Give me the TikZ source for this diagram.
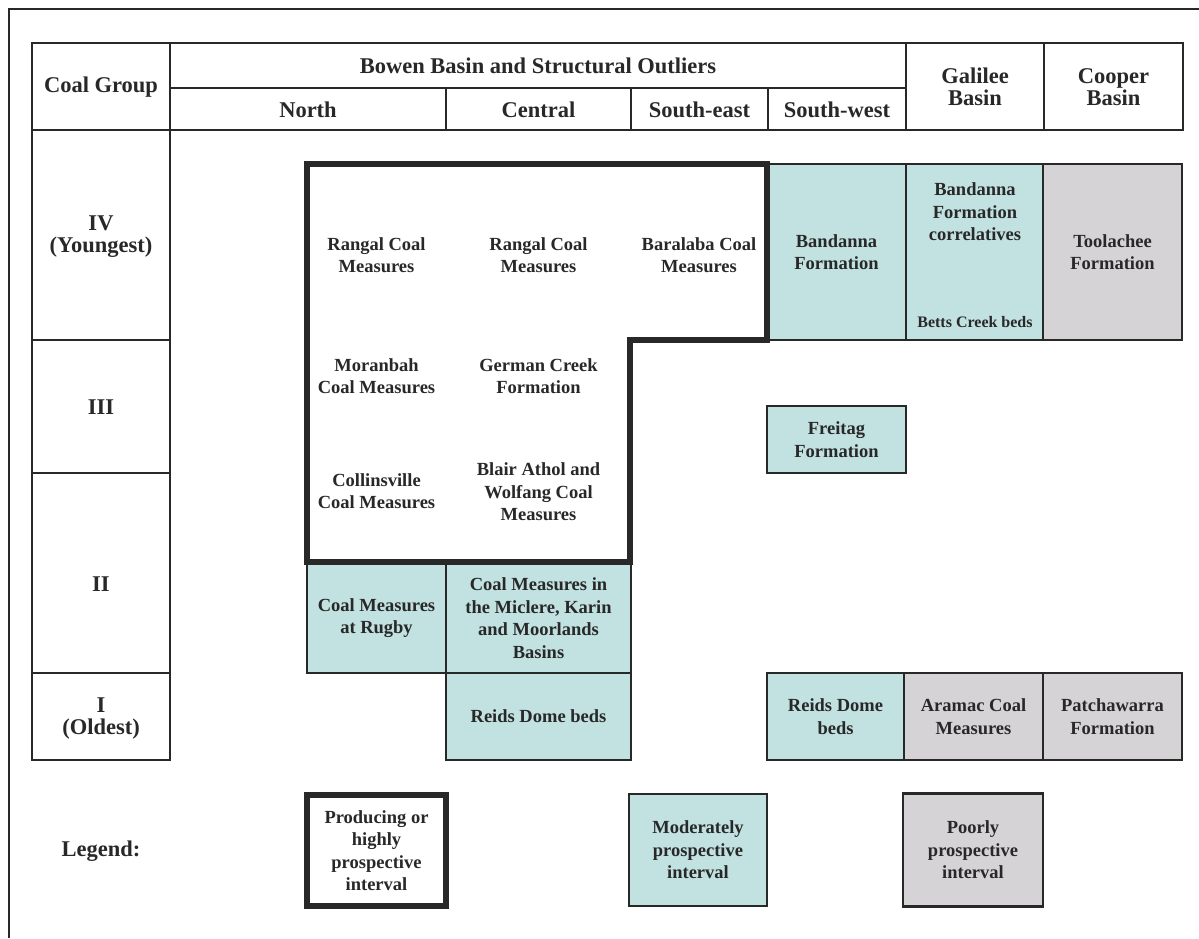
\documentclass[tikz,border=0pt]{standalone}
\usepackage{fontspec}
\setmainfont{Liberation Serif}
\usepackage{xcolor}
\usepackage{tikz}
\usetikzlibrary{positioning}

\definecolor{modfill}{RGB}{194,226,226}
\definecolor{poorfill}{RGB}{213,211,214}
\definecolor{ink}{RGB}{40,40,40}

\begin{document}
\begin{tikzpicture}[
    x=1pt, y=-1pt,
    grid/.style={draw=ink, line width=1.3pt},
    head/.style={font=\fontsize{22.5}{22}\selectfont\bfseries, align=center, text=ink, inner sep=0pt},
    unit/.style={font=\fontsize{18.5}{22.5}\selectfont\bfseries, align=center, text=ink, inner sep=0pt},
    small/.style={font=\fontsize{16}{18}\selectfont\bfseries, text=ink, inner sep=0pt},
    modbox/.style={rectangle, draw=ink, line width=1.3pt, fill=modfill, unit},
    poorbox/.style={rectangle, draw=ink, line width=2.6pt, fill=poorfill, unit},
    prodbox/.style={rectangle, draw=ink, line width=6pt, fill=white, unit},
    prod/.style={draw=ink, line width=6pt, line join=miter}
]
    \useasboundingbox (0,0) rectangle (1199,938);

    % Page frame
    \draw[ink, line width=2.5pt] (9,938) -- (9,9) -- (1199,9);

    % Header table
    \draw[grid] (32,43) rectangle (1183,130);
    \draw[grid] (170,88) -- (906,88);
    \foreach \x in {170,906,1044} {
        \draw[grid] (\x,43) -- (\x,130);
    }
    \foreach \x in {446,631,768} {
        \draw[grid] (\x,88) -- (\x,130);
    }
    \node[head] (group) at (101,87) {Coal Group};
    \node[head] (bowen) at (538,66) {Bowen Basin and Structural Outliers};
    \node[head] (north) at (308,110) {North};
    \node[head] (central) at (538.5,110) {Central};
    \node[head] (southeast) at (699.5,110) {South-east};
    \node[head] (southwest) at (837,110) {South-west};
    \node[head] (galilee) at (975,87) {Galilee\\Basin};
    \node[head] (cooper) at (1113.5,87) {Cooper\\Basin};

    % Coal group column
    \draw[grid] (32,130) rectangle (170,760);
    \foreach \y in {340,473,673} {
        \draw[grid] (32,\y) -- (170,\y);
    }
    \node[head] (g4) at (101,237) {IV\\(Youngest)};
    \node[head] (g3) at (101,407) {III};
    \node[head] (g2) at (101,584) {II};
    \node[head] (g1) at (101,719) {I\\(Oldest)};

    % Moderately prospective units
    \node[modbox, minimum width=139pt, minimum height=176pt] (bandanna) at (836.5,252) {Bandanna\\Formation};
    \node[modbox, minimum width=137pt, minimum height=176pt] (correl) at (974.5,252) {};
    \node[unit] (correltext) at (975,212) {Bandanna\\Formation\\correlatives};
    \node[small] (betts) at (975,322) {Betts Creek beds};
    \node[modbox, minimum width=139pt, minimum height=67pt] (freitag) at (836.5,439.5) {Freitag\\Formation};
    \node[modbox, minimum width=139pt, minimum height=110pt] (rugby) at (376.5,618) {Coal Measures\\at Rugby};
    \node[modbox, minimum width=185pt, minimum height=110pt] (miclere) at (538.5,618) {Coal Measures in\\the Miclere, Karin\\and Moorlands\\Basins};
    \node[modbox, minimum width=185pt, minimum height=87pt] (reidsc) at (538.5,716.5) {Reids Dome beds};
    \node[modbox, minimum width=137pt, minimum height=87pt] (reidsw) at (835.5,716.5) {Reids Dome\\beds};

    % Poorly prospective units
    \node[poorbox, minimum width=139pt, minimum height=176pt] (toolachee) at (1112.5,252) {Toolachee\\Formation};
    \node[poorbox, minimum width=139pt, minimum height=87pt] (aramac) at (973.5,716.5) {Aramac Coal\\Measures};
    \node[poorbox, minimum width=139pt, minimum height=87pt] (patcha) at (1112.5,716.5) {Patchawarra\\Formation};

    % Producing or highly prospective interval
    \draw[prod] (307,164) -- (767,164) -- (767,340) -- (630,340)
        -- (630,562) -- (307,562) -- cycle;
    \node[unit] (rangaln) at (376.5,255) {Rangal Coal\\Measures};
    \node[unit] (rangalc) at (538.5,255) {Rangal Coal\\Measures};
    \node[unit] (baralaba) at (699,255) {Baralaba Coal\\Measures};
    \node[unit] (moranbah) at (376.5,376) {Moranbah\\Coal Measures};
    \node[unit] (german) at (538.5,376) {German Creek\\Formation};
    \node[unit] (collins) at (376.5,491) {Collinsville\\Coal Measures};
    \node[unit] (blair) at (538.5,492) {Blair Athol and\\Wolfang Coal\\Measures};

    % Legend
    \node[head] (legend) at (101,851) {Legend:};
    \node[prodbox, minimum width=139pt, minimum height=111pt] (keyprod) at (376.5,850.5) {Producing or\\highly\\prospective\\interval};
    \node[modbox, minimum width=138pt, minimum height=112pt] (keymod) at (698,850) {Moderately\\prospective\\interval};
    \node[poorbox, minimum width=140pt, minimum height=113pt] (keypoor) at (973,850) {Poorly\\prospective\\interval};
\end{tikzpicture}
\end{document}
